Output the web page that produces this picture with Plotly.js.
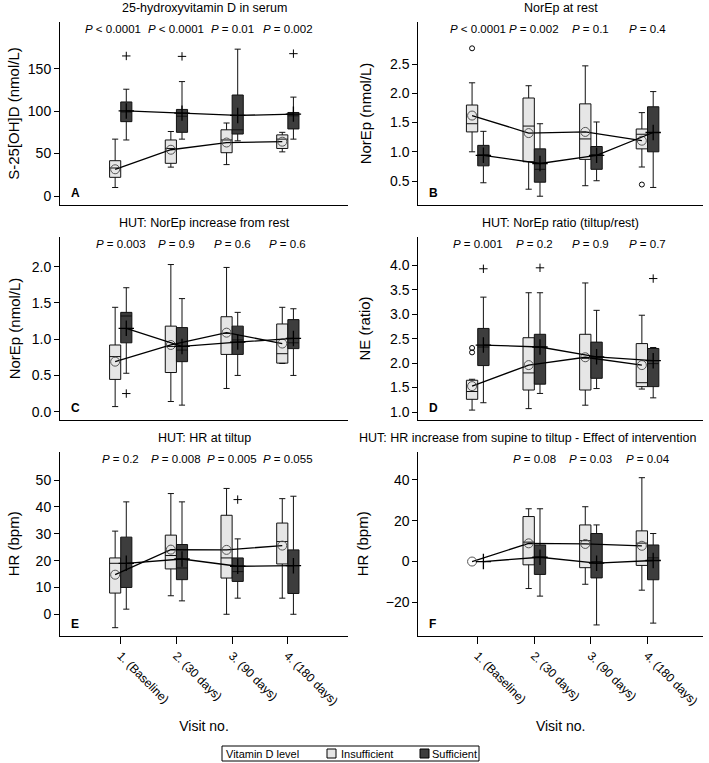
<!DOCTYPE html>
<html><head><meta charset="utf-8">
<script src="https://cdn.plot.ly/plotly-3.0.1.min.js"></script>
<style>body{margin:0;background:#fff}#chart{width:709px;height:763px}</style>
</head><body><div id="chart"></div>
<script>
// ---------- DATA ----------
const visitLabels = ['1. (Baseline)', '2. (30 days)', '3. (90 days)', '4. (180 days)'];
const visitNo = [1, 2, 3, 4];
const groupNames = ['Insufficient', 'Sufficient'];
const legendTitle = 'Vitamin D level';

// Panel A: 25-hydroxyvitamin D in serum (nmol/L)
const A_ins_lo = [10, 34, 37, 52], A_ins_q1 = [22, 38.5, 51, 56], A_ins_med = [33, 56, 66, 67], A_ins_q3 = [41.6, 66, 78, 72], A_ins_hi = [67, 76, 86, 75];
const A_ins_mean = [31.5, 54.5, 63, 64];
const A_suf_lo = [66, 67, 65, 67], A_suf_q1 = [87.6, 75, 73, 79], A_suf_med = [99, 94, 78, 94.5], A_suf_q3 = [110.8, 102, 119, 98.4], A_suf_hi = [125.8, 134.8, 173, 116.5];
const A_suf_mean = [100.2, 97.6, 94.9, 96.5];
const A_suf_outX = [1, 2, 4], A_suf_outY = [165, 164.5, 167.7];
const A_pvals = ['P < 0.0001', 'P < 0.0001', 'P = 0.01', 'P = 0.002'];

// Panel B: NorEp at rest (nmol/L)
const B_ins_lo = [1.0, 0.36, 0.42, 0.74], B_ins_q1 = [1.34, 0.83, 0.87, 1.05], B_ins_med = [1.48, 1.44, 1.22, 1.30], B_ins_q3 = [1.80, 1.92, 1.82, 1.39], B_ins_hi = [2.18, 2.13, 2.47, 1.67];
const B_ins_mean = [1.62, 1.32, 1.34, 1.19];
const B_ins_outX = [1, 4], B_ins_outY = [2.77, 0.44];
const B_suf_lo = [0.47, 0.24, 0.505, 0.39], B_suf_q1 = [0.76, 0.48, 0.70, 1.0], B_suf_med = [0.95, 0.70, 0.95, 1.33], B_suf_q3 = [1.11, 1.05, 1.09, 1.77], B_suf_hi = [1.35, 1.48, 1.51, 2.03];
const B_suf_mean = [0.94, 0.80, 0.94, 1.33];
const B_pvals = ['P < 0.0001', 'P = 0.002', 'P = 0.1', 'P = 0.4'];

// Panel C: HUT NorEp increase from rest (nmol/L)
const C_ins_lo = [0.07, 0.14, 0.32, 0.665], C_ins_q1 = [0.445, 0.54, 0.79, 0.67], C_ins_med = [0.76, 0.9, 1.08, 0.80], C_ins_q3 = [0.92, 1.18, 1.31, 1.21], C_ins_hi = [1.44, 2.03, 1.99, 1.44];
const C_ins_mean = [0.69, 0.92, 1.09, 0.94];
const C_suf_lo = [0.53, 0.09, 0.50, 0.50], C_suf_q1 = [0.95, 0.69, 0.79, 0.87], C_suf_med = [1.32, 0.85, 0.99, 0.95], C_suf_q3 = [1.37, 1.16, 1.18, 1.27], C_suf_hi = [1.71, 1.56, 1.37, 1.42];
const C_suf_mean = [1.15, 0.90, 0.96, 1.01];
const C_suf_outX = [1], C_suf_outY = [0.25];
const C_pvals = ['P = 0.003', 'P = 0.9', 'P = 0.6', 'P = 0.6'];

// Panel D: HUT NorEp ratio (tiltup/rest)
const D_ins_lo = [1.04, 1.07, 1.14, 1.47], D_ins_q1 = [1.26, 1.45, 1.45, 1.52], D_ins_med = [1.42, 1.80, 2.10, 1.60], D_ins_q3 = [1.65, 2.52, 2.59, 2.40], D_ins_hi = [1.67, 3.44, 3.64, 2.98];
const D_ins_mean = [1.53, 1.96, 2.12, 1.96];
const D_ins_outX = [1, 1], D_ins_outY = [2.31, 2.22];
const D_suf_lo = [1.19, 1.38, 1.48, 1.29], D_suf_q1 = [1.95, 1.57, 1.69, 1.52], D_suf_med = [2.33, 2.33, 2.13, 1.99], D_suf_q3 = [2.71, 2.59, 2.43, 2.30], D_suf_hi = [3.35, 3.44, 3.08, 2.32];
const D_suf_mean = [2.37, 2.33, 2.13, 2.05];
const D_suf_outX = [1, 2, 4], D_suf_outY = [3.93, 3.95, 3.73];
const D_pvals = ['P = 0.001', 'P = 0.2', 'P = 0.9', 'P = 0.7'];

// Panel E: HUT HR at tiltup (bpm)
const E_ins_lo = [-5, 6.9, 0, 6], E_ins_q1 = [7.9, 16.9, 13.5, 18.75], E_ins_med = [19, 21.9, 21, 27.1], E_ins_q3 = [21, 29.5, 36.9, 34], E_ins_hi = [31, 45, 46.9, 43.1];
const E_ins_mean = [14.75, 24.1, 24, 25.6];
const E_suf_lo = [1.9, 5, 6, 0], E_suf_q1 = [10, 12.9, 12.25, 7.75], E_suf_med = [19, 17.25, 15.9, 18.1], E_suf_q3 = [28.75, 26, 21, 24], E_suf_hi = [41.9, 41.9, 28.1, 44];
const E_suf_mean = [19, 20.6, 17.9, 18.1];
const E_suf_outX = [3], E_suf_outY = [42.75];
const E_pvals = ['P = 0.2', 'P = 0.008', 'P = 0.005', 'P = 0.055'];

// Panel F: HUT HR increase from supine to tiltup (bpm) - no boxes at baseline
const F_boxVisits = [2, 3, 4];
const F_ins_lo = [-13.2, -11.1, -14], F_ins_q1 = [-1.6, -3, -1.9], F_ins_med = [9.5, 10.2, 9], F_ins_q3 = [22, 17.9, 15], F_ins_hi = [25.8, 26.8, 41];
const F_ins_mean = [0, 8.9, 8.6, 7.7];
const F_suf_lo = [-16.9, -31, -30.1], F_suf_q1 = [-6.3, -8, -8.9], F_suf_med = [2.1, 0, 1.8], F_suf_q3 = [8.1, 13.7, 8.1], F_suf_hi = [25.8, 17.9, 13.7];
const F_suf_mean = [0, 2.1, -0.8, 0.5];
const F_pvals = ['', 'P = 0.08', 'P = 0.03', 'P = 0.04'];

const panelTitles = ['25-hydroxyvitamin D in serum', 'NorEp at rest', 'HUT: NorEp increase from rest',
  'HUT: NorEp ratio (tiltup/rest)', 'HUT: HR at tiltup', 'HUT: HR increase from supine to tiltup - Effect of intervention'];
const yTitles = ['S-25[OH]D (nmol/L)', 'NorEp (nmol/L)', 'NorEp (nmol/L)', 'NE (ratio)', 'HR (bpm)', 'HR (bpm)'];
const panelLetters = ['A', 'B', 'C', 'D', 'E', 'F'];

// ---------- STYLE / LAYOUT ----------
const FONT = 'Arial, "Liberation Sans", sans-serif';
const W = 709, H = 763;
const lightFill = '#e6e6e6', darkFill = '#3d3d3d';
const OFF = 0.1, BW = 0.2;

const panels = [
  {ins: {lo: A_ins_lo, q1: A_ins_q1, med: A_ins_med, q3: A_ins_q3, hi: A_ins_hi, mean: A_ins_mean},
   suf: {lo: A_suf_lo, q1: A_suf_q1, med: A_suf_med, q3: A_suf_q3, hi: A_suf_hi, mean: A_suf_mean, outX: A_suf_outX, outY: A_suf_outY},
   pv: A_pvals, pvShift: [-8, 0, 0, 0], yr: [-10.6, 205], tv: [0, 50, 100, 150], fmt: '', px: [60, 348], py: [22, 205], xr: [-0.09, 5.08], so: 4},
  {ins: {lo: B_ins_lo, q1: B_ins_q1, med: B_ins_med, q3: B_ins_q3, hi: B_ins_hi, mean: B_ins_mean, outX: B_ins_outX, outY: B_ins_outY, outSym: 'circle-open'},
   suf: {lo: B_suf_lo, q1: B_suf_q1, med: B_suf_med, q3: B_suf_q3, hi: B_suf_hi, mean: B_suf_mean},
   pv: B_pvals, yr: [0.09, 3.22], tv: [0.5, 1, 1.5, 2, 2.5], fmt: '.1f', px: [418.3, 703], py: [22, 205], xr: [-0.05, 4.98], so: 14},
  {ins: {lo: C_ins_lo, q1: C_ins_q1, med: C_ins_med, q3: C_ins_q3, hi: C_ins_hi, mean: C_ins_mean},
   suf: {lo: C_suf_lo, q1: C_suf_q1, med: C_suf_med, q3: C_suf_q3, hi: C_suf_hi, mean: C_suf_mean, outX: C_suf_outX, outY: C_suf_outY},
   pv: C_pvals, yr: [-0.115, 2.41], tv: [0, 0.5, 1, 1.5, 2], fmt: '.1f', px: [60, 348], py: [237, 420], xr: [-0.09, 5.08], so: 7},
  {ins: {lo: D_ins_lo, q1: D_ins_q1, med: D_ins_med, q3: D_ins_q3, hi: D_ins_hi, mean: D_ins_mean, outX: D_ins_outX, outY: D_ins_outY, outSym: 'circle-open'},
   suf: {lo: D_suf_lo, q1: D_suf_q1, med: D_suf_med, q3: D_suf_q3, hi: D_suf_hi, mean: D_suf_mean, outX: D_suf_outX, outY: D_suf_outY},
   pv: D_pvals, yr: [0.837, 4.58], tv: [1, 1.5, 2, 2.5, 3, 3.5, 4], fmt: '.1f', px: [418.3, 703], py: [237, 420], xr: [-0.05, 4.98], so: 15},
  {ins: {lo: E_ins_lo, q1: E_ins_q1, med: E_ins_med, q3: E_ins_q3, hi: E_ins_hi, mean: E_ins_mean},
   suf: {lo: E_suf_lo, q1: E_suf_q1, med: E_suf_med, q3: E_suf_q3, hi: E_suf_hi, mean: E_suf_mean, outX: E_suf_outX, outY: E_suf_outY},
   pv: E_pvals, yr: [-8.1, 60.6], tv: [0, 10, 20, 30, 40, 50], fmt: '', px: [60, 348], py: [451.7, 636], xr: [-0.09, 5.08], so: 12},
  {ins: {lo: F_ins_lo, q1: F_ins_q1, med: F_ins_med, q3: F_ins_q3, hi: F_ins_hi, mean: F_ins_mean, bx: F_boxVisits},
   suf: {lo: F_suf_lo, q1: F_suf_q1, med: F_suf_med, q3: F_suf_q3, hi: F_suf_hi, mean: F_suf_mean, bx: F_boxVisits},
   pv: F_pvals, yr: [-36.4, 53.7], tv: [-20, 0, 20, 40], fmt: '', px: [418.3, 703], py: [451.7, 636], xr: [-0.05, 4.98], so: 13}
];

const traces = [];
const layout = {
  width: W, height: H, margin: {l: 0, r: 0, t: 0, b: 0},
  paper_bgcolor: '#fff', plot_bgcolor: '#fff',
  font: {family: FONT, color: '#000', size: 12},
  hovermode: false, boxmode: 'overlay',
  showlegend: false,
  annotations: [], shapes: []
};

panels.forEach((p, i) => {
  const k = i === 0 ? '' : String(i + 1);
  const xa = 'x' + k, ya = 'y' + k;
  const bottom = i >= 4;
  [['ins', -OFF, lightFill], ['suf', OFF, darkFill]].forEach(([g, off, fill], gi) => {
    const d = p[g];
    const bxv = d.bx || visitNo;
    traces.push({
      type: 'box', xaxis: xa, yaxis: ya, name: groupNames[gi], legendgroup: g,
      x: bxv.map(v => v + off), q1: d.q1, median: d.med, q3: d.q3, lowerfence: d.lo, upperfence: d.hi,
      width: BW, whiskerwidth: 0.55, boxpoints: false,
      fillcolor: fill, line: {color: '#111', width: 1}
    });
    traces.push({
      type: 'scatter', mode: 'lines+markers', xaxis: xa, yaxis: ya, name: groupNames[gi] + ' mean',
      x: visitNo.map(v => v + off), y: d.mean,
      line: {color: '#000', width: 1.3},
      marker: g === 'ins'
        ? {symbol: 'circle-open', size: 9, color: '#555', line: {width: 1, color: '#555'}}
        : {symbol: 'cross-thin-open', size: 11, color: '#000', line: {width: 1.3, color: '#000'}}
    });
    if (d.outX) {
      traces.push({
        type: 'scatter', mode: 'markers', xaxis: xa, yaxis: ya, name: groupNames[gi] + ' outliers',
        x: d.outX.map(v => v + off), y: d.outY,
        marker: d.outSym === 'circle-open'
          ? {symbol: 'circle-open', size: 5, color: '#000', line: {width: 1, color: '#000'}}
          : {symbol: 'cross-thin-open', size: 6, color: '#000', line: {width: 1, color: '#000'}}
      });
    }
  });

  layout['xaxis' + k] = {
    domain: [p.px[0] / W, p.px[1] / W], anchor: ya, range: p.xr,
    tickvals: visitNo, ticktext: visitLabels, tickangle: 45,
    showticklabels: bottom, ticks: bottom ? 'outside' : '', ticklen: 7, tickcolor: '#000', tickwidth: 1,
    tickfont: {size: 12, family: FONT},
    showline: true, linecolor: '#000', linewidth: 1, showgrid: false, zeroline: false,
    automargin: false,
    title: bottom ? {text: 'Visit no.', font: {size: 14, family: FONT}, standoff: 13} : {text: ''}
  };
  layout['yaxis' + k] = {
    domain: [1 - p.py[1] / H, 1 - p.py[0] / H], anchor: xa, range: p.yr,
    tickvals: p.tv, tickformat: p.fmt, ticks: 'outside', ticklen: 5, tickcolor: '#000', tickwidth: 1,
    tickfont: {size: 14, family: FONT},
    showline: true, linecolor: '#000', linewidth: 1, showgrid: false, zeroline: false,
    automargin: false,
    title: {text: yTitles[i], font: {size: 15, family: FONT}, standoff: p.so}
  };

  layout.annotations.push({
    xref: xa + ' domain', yref: ya + ' domain', x: i === 5 ? 0.385 : 0.5, y: 1, yshift: 14,
    xanchor: 'center', yanchor: 'middle', showarrow: false,
    text: panelTitles[i], font: {size: 12.5, family: FONT}
  });
  layout.annotations.push({
    xref: xa + ' domain', yref: ya + ' domain', x: 0.03, y: 0.065,
    xanchor: 'left', yanchor: 'middle', showarrow: false,
    text: '<b>' + panelLetters[i] + '</b>', font: {size: 12, family: FONT}
  });
  p.pv.forEach((t, j) => {
    if (!t) return;
    const rest = t.slice(1).replace('<', '&lt;');
    layout.annotations.push({
      xref: xa, yref: ya + ' domain', x: visitNo[j], y: 0.96, xshift: p.pvShift ? p.pvShift[j] : 0,
      xanchor: 'center', yanchor: 'middle', showarrow: false,
      text: '<i>P</i>' + rest, font: {size: 11.5, family: FONT}
    });
  });
});

// ---------- LEGEND (drawn as a framed key) ----------
const ly0 = 1 - 761 / H, ly1 = 1 - 746 / H, lyc = (ly0 + ly1) / 2;
layout.shapes.push({type: 'rect', xref: 'paper', yref: 'paper', x0: 222 / W, x1: 479 / W, y0: ly0, y1: ly1,
  line: {color: '#000', width: 1}, fillcolor: 'rgba(0,0,0,0)'});
layout.annotations.push({xref: 'paper', yref: 'paper', x: 225 / W, y: lyc, xanchor: 'left', yanchor: 'middle',
  showarrow: false, borderpad: 0, text: legendTitle, font: {size: 11, family: FONT}});
[[327, 340, lightFill], [420, 431, darkFill]].forEach(([sx, tx, fill], gi) => {
  layout.shapes.push({type: 'rect', xref: 'paper', yref: 'paper', x0: sx / W, x1: (sx + 9) / W,
    y0: 1 - 758 / H, y1: 1 - 749 / H, line: {color: '#000', width: 1}, fillcolor: fill});
  layout.annotations.push({xref: 'paper', yref: 'paper', x: tx / W, y: lyc, xanchor: 'left', yanchor: 'middle',
    showarrow: false, borderpad: 0, text: groupNames[gi], font: {size: 11, family: FONT}});
});

Plotly.newPlot('chart', traces, layout, {staticPlot: true, displayModeBar: false});
</script>
</body></html>
